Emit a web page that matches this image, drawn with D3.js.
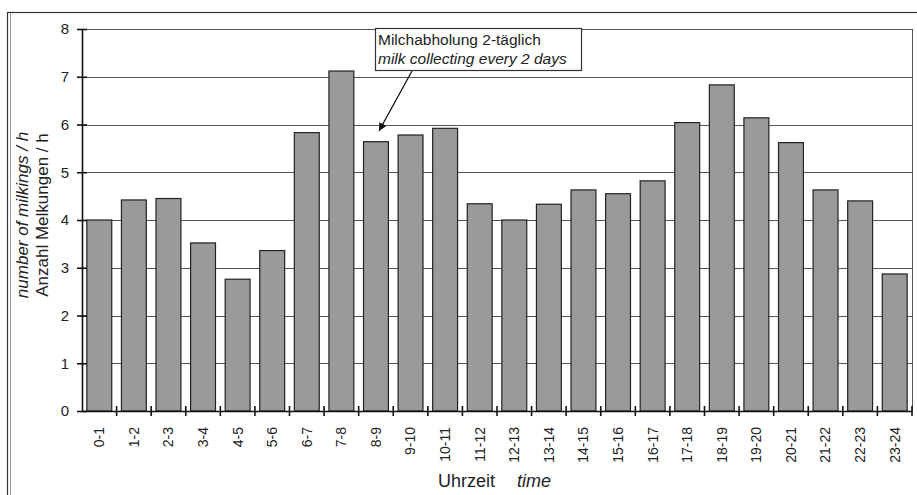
<!DOCTYPE html>
<html><head><meta charset="utf-8">
<script src="https://cdn.jsdelivr.net/npm/d3@7/dist/d3.min.js"></script>
<style>body{margin:0;background:#fff;} text{font-family:"Liberation Sans",Arial,sans-serif;fill:#222;}</style>
</head><body>
<svg id="c" width="917" height="495"></svg>
<script>
const categories = ["0-1","1-2","2-3","3-4","4-5","5-6","6-7","7-8","8-9","9-10","10-11","11-12","12-13","13-14","14-15","15-16","16-17","17-18","18-19","19-20","20-21","21-22","22-23","23-24"];
const milkingsPerHour = [4.0,4.42,4.45,3.52,2.76,3.36,5.83,7.12,5.64,5.78,5.92,4.34,4.0,4.33,4.63,4.55,4.82,6.04,6.83,6.14,5.62,4.63,4.4,2.87];
const yTicks = [0,1,2,3,4,5,6,7,8];
const annotationLines = ["Milchabholung 2-täglich","milk collecting every 2 days"];

const svg = d3.select("#c");
const m = {l:82, r:5, t:29, b:84};
const W = 917, H = 495;
const x = d3.scaleBand().domain(categories).range([m.l, W - m.r]).paddingInner(0.28).paddingOuter(0.14);
const y = d3.scaleLinear().domain([0,8]).range([H - m.b, m.t]);

// outer frame
svg.append("rect").attr("x",7.5).attr("y",12.5).attr("width",W+20).attr("height",H+20)
  .attr("fill","none").attr("stroke","#333").attr("stroke-width",1.2);
svg.append("line").attr("x1",10.5).attr("x2",10.5).attr("y1",13).attr("y2",H).attr("stroke","#999");

// gridlines
svg.append("g").selectAll("line").data(yTicks.filter(d=>d>0)).join("line")
  .attr("x1",m.l).attr("x2",W-m.r).attr("y1",d=>Math.round(y(d))+0.5).attr("y2",d=>Math.round(y(d))+0.5)
  .attr("stroke","#555").attr("stroke-width",1.1);
// right border
svg.append("line").attr("x1",W-m.r+0.5).attr("x2",W-m.r+0.5).attr("y1",y(8)).attr("y2",y(0))
  .attr("stroke","#555");

// bars
svg.append("g").selectAll("rect").data(milkingsPerHour).join("rect")
  .attr("x",(d,i)=>x(categories[i])).attr("width",x.bandwidth())
  .attr("y",d=>y(d)).attr("height",d=>y(0)-y(d))
  .attr("fill","#9a9a9a").attr("stroke","#222").attr("stroke-width",1.2);

// y axis
const ya = d3.axisLeft(y).tickValues(yTicks).tickSizeInner(5).tickSizeOuter(0).tickPadding(8);
const gy = svg.append("g").attr("transform",`translate(${m.l},0)`).call(ya);
gy.select(".domain").attr("stroke","#111").attr("stroke-width",1.6);
gy.selectAll(".tick line").attr("x2",-5).attr("x1",5).attr("stroke","#111").attr("stroke-width",1.6);
gy.selectAll(".tick text").attr("font-size",15).attr("fill","#222");

// x axis
const xa = d3.axisBottom(x).tickSize(0).tickSizeOuter(0);
const gx = svg.append("g").attr("transform",`translate(0,${y(0)})`).call(xa);
gx.select(".domain").attr("stroke","#111").attr("stroke-width",1.6);
gx.selectAll(".tick text").attr("font-size",14).attr("fill","#222")
  .attr("transform","rotate(-90)").attr("text-anchor","end").attr("dy","0.35em").attr("x",-16).attr("y",0);
// boundary ticks
const bounds = categories.map(c => x(c) - x.step()*x.paddingInner()/2).concat([W - m.r]);
gx.append("g").selectAll("line").data(bounds.slice(1)).join("line")
  .attr("x1",d=>d).attr("x2",d=>d).attr("y1",-5).attr("y2",5).attr("stroke","#111").attr("stroke-width",1.6);

// axis titles
const yt = svg.append("text").attr("transform",`translate(28,215) rotate(-90)`)
  .attr("text-anchor","middle").attr("font-size",17);
yt.append("tspan").attr("x",0).attr("dy",0).attr("font-style","italic").text("number of milkings / h");
yt.append("tspan").attr("x",0).attr("dy",20).text("Anzahl Melkungen / h");

const xt = svg.append("text").attr("x",438).attr("y",487).attr("font-size",18);
xt.append("tspan").text("Uhrzeit");
xt.append("tspan").attr("dx",22).attr("font-style","italic").text("time");

// annotation
svg.append("rect").attr("x",375.5).attr("y",28.5).attr("width",206).attr("height",42)
  .attr("fill","#fff").attr("stroke","#333").attr("stroke-width",1.2);
svg.append("text").attr("x",378).attr("y",45).attr("font-size",15.5).text(annotationLines[0]);
svg.append("text").attr("x",378).attr("y",64).attr("font-size",15.5).attr("font-style","italic").text(annotationLines[1]);
svg.append("defs").append("marker").attr("id","ah").attr("viewBox","0 0 10 10").attr("refX",10).attr("refY",5)
  .attr("markerWidth",8).attr("markerHeight",8).attr("markerUnits","userSpaceOnUse").attr("orient","auto")
  .append("path").attr("d","M0,0L10,5L0,10z").attr("fill","#111");
svg.append("line").attr("x1",412).attr("y1",71).attr("x2",379).attr("y2",131)
  .attr("stroke","#111").attr("stroke-width",1.3).attr("marker-end","url(#ah)");
</script>
</body></html>
